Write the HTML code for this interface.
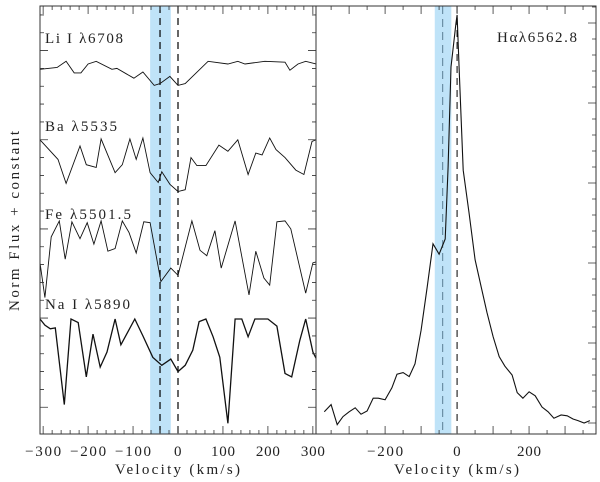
<!DOCTYPE html>
<html><head><meta charset="utf-8"><style>
html,body{margin:0;padding:0;background:#fff}
svg{display:block}
text{font-family:"Liberation Serif","DejaVu Serif",serif;fill:#222}
</style></head><body>
<svg id="chart" width="600" height="482" viewBox="0 0 600 482" xmlns="http://www.w3.org/2000/svg"></svg>
<script>
// ---- data ----
const liVel=[-307,-269,-249,-231,-216,-200,-182,-147,-136,-98,-78,-53,-40,-18,0,16,67,111,133,149,193,238,249,267,284,307];
const liFlux=[0.91,0.93,1.00,0.87,0.87,0.97,1.00,0.91,0.92,0.81,0.88,0.73,0.75,0.83,0.73,0.75,1.00,0.97,1.00,0.97,1.00,0.99,0.90,0.97,1.00,0.97];
const baVel=[-307,-267,-249,-218,-204,-182,-171,-140,-124,-107,-93,-78,-62,-44,-36,-18,0,16,29,42,62,91,111,133,156,173,187,204,218,238,262,280,298,307];
const baFlux=[1.0,0.78,0.51,0.93,0.72,0.69,1.01,0.63,0.72,1.01,0.78,1.02,0.63,0.52,0.64,0.50,0.42,0.44,0.80,0.71,0.71,0.94,0.87,1.0,0.61,0.85,0.83,1.02,0.89,0.80,0.66,0.61,0.98,1.0];
const feVel=[-307,-296,-282,-264,-251,-236,-218,-202,-187,-171,-156,-140,-124,-109,-93,-76,-62,-38,-16,0,31,49,64,82,96,127,158,173,191,204,220,238,251,284,300,307];
const feFlux=[0.53,0.14,0.82,1.0,0.57,0.99,0.80,0.98,0.74,1.0,0.66,0.69,1.0,0.87,0.64,0.99,0.98,0.32,0.47,0.39,1.0,0.67,0.61,0.89,0.47,1.0,0.17,0.66,0.36,0.28,0.99,1.0,0.91,0.19,0.53,0.54];
const naVel=[-307,-296,-284,-273,-253,-238,-222,-204,-189,-173,-158,-140,-127,-96,-78,-56,-36,-16,0,16,33,47,62,78,93,111,127,142,156,171,200,220,238,253,271,284,300,307];
const naFlux=[1,0.93,0.89,0.90,0.04,1,0.96,0.35,0.83,0.46,0.63,1,0.71,1,0.81,0.57,0.48,0.55,0.41,0.48,0.65,0.97,1,0.80,0.57,-0.17,1,1,0.80,1,1,0.92,0.39,0.35,0.76,1,0.63,0.56];
const lineNames=["Li I \u03bb6708","Ba \u03bb5535","Fe \u03bb5501.5","Na I \u03bb5890"];
const lineOffsets=[3.18,2.30,1.39,0.29];
const haVel=[-369,-350,-333,-317,-300,-283,-267,-250,-233,-219,-200,-181,-167,-150,-133,-117,-100,-83,-67,-50,-33,-25,-17,-3,0,6,17,33,50,67,83,100,117,133,153,167,183,200,217,236,253,269,289,306,322,336,353,369];
const haFlux=[1.14,1.23,0.98,1.08,1.14,1.19,1.11,1.15,1.31,1.31,1.29,1.44,1.61,1.63,1.58,1.74,2.16,2.70,3.24,3.11,3.30,4.20,5.45,6.00,6.10,5.41,4.16,3.63,3.04,2.70,2.38,2.08,1.83,1.71,1.60,1.38,1.31,1.39,1.34,1.20,1.14,1.06,1.10,1.09,1.05,1.03,1.00,1.03];
const leftXTicks=[-300,-200,-100,0,100,200,300];
const rightXTicks=[-200,0,200];
const shadeRange=[-62,-16];
const markerVels=[-40,0];

// ---- scales ----
const L={x0:40,x1:316,y0:6,y1:434,vmin:-307,vmax:307,fmin:0,fmax:4.8};
const R={x0:316,x1:596,y0:6,y1:434,vmin:-392,vmax:386,fmin:0.8625,fmax:6.2125};
const sx=(p,v)=>p.x0+(v-p.vmin)/(p.vmax-p.vmin)*(p.x1-p.x0);
const sy=(p,f)=>p.y1-(f-p.fmin)/(p.fmax-p.fmin)*(p.y1-p.y0);
const svg=document.getElementById('chart');
const NS='http://www.w3.org/2000/svg';
function mk(tag,attrs,parent){const e=document.createElementNS(NS,tag);for(const k in attrs)e.setAttribute(k,attrs[k]);(parent||svg).appendChild(e);return e;}
function tickWidth(v){const s=String(Math.abs(v));return s.length*8+(v<0?12:0);}

function panel(p,key){
  const g=mk('g',{});
  
  
  const b=mk('rect',{x:sx(p,shadeRange[0]),y:p.y0,width:sx(p,shadeRange[1])-sx(p,shadeRange[0]),height:p.y1-p.y0,fill:'#bfe3f8'},g);
  
  
  markerVels.forEach((v,i)=>{
    const l=mk('line',{x1:sx(p,v),x2:sx(p,v),y1:p.y0,y2:p.y1,stroke:(key==='right'&&i===0)?'#5a7d94':'#000','stroke-width':key==='right'?1:1.2,'stroke-dasharray':key==='right'&&i===0?'8,5':'7,5'},g);
    
    
  });
  return g;
}
function poly(p,vel,flux,off,g,name,w){
  const pts=vel.map((v,i)=>sx(p,v).toFixed(1)+','+sy(p,flux[i]+off).toFixed(1)).join(' ');
  const e=mk('polyline',{points:pts,fill:'none',stroke:'#111','stroke-width':w},g);
  
  
}
const gl=panel(L,'left');
const cp=mk('clipPath',{id:'cl'});mk('rect',{x:L.x0,y:L.y0,width:L.x1-L.x0,height:L.y1-L.y0},cp);
const gls=mk('g',{'clip-path':'url(#cl)'},gl);
poly(L,liVel,liFlux,lineOffsets[0],gls,'li-6708-spectrum',0.9);
poly(L,baVel,baFlux,lineOffsets[1],gls,'ba-5535-spectrum',0.9);
poly(L,feVel,feFlux,lineOffsets[2],gls,'fe-5501-spectrum',0.9);
poly(L,naVel,naFlux,lineOffsets[3],gls,'na-5890-spectrum',1.3);
const labelY=[43,131,219,309];
const labelW=[78,72,86,85];
lineNames.forEach((n,i)=>{
  const t=mk('text',{x:45,y:labelY[i],'font-size':15,textLength:labelW[i],lengthAdjust:'spacing'},gl);t.textContent=n;
  
  
});
const gr=panel(R,'right');
poly(R,haVel,haFlux,0,gr,'halpha-spectrum',1.1);
const ht=mk('text',{x:497,y:42,'font-size':15,textLength:80,lengthAdjust:'spacing'},gr);ht.textContent='H\u03b1\u03bb6562.8';



function frame(p,name){
  const r=mk('rect',{x:p.x0,y:p.y0,width:p.x1-p.x0,height:p.y1-p.y0,fill:'none',stroke:'#333','stroke-width':1});
  
  
}
frame(L,'left-frame');frame(R,'right-frame');
let d='';
for(let v=-300;v<=300;v+=20){const x=sx(L,v),len=v%100===0?8:4;d+=`M${x},${L.y1}v${-len}M${x},${L.y0}v${len}`;}
for(let k=0;k<=24;k++){const f=0.3+k*0.2;if(f>L.fmax)break;const y=sy(L,f),len=k%5===0?8:4;d+=`M${L.x0},${y}h${len}M${L.x1},${y}h${-len}`;}
for(let v=-350;v<=350;v+=50){const x=sx(R,v),len=v%100===0?8:4;d+=`M${x},${R.y1}v${-len}M${x},${R.y0}v${len}`;}
for(let k=0;k<=27;k++){const f=0.8+k*0.2;if(f>R.fmax)break;if(f<R.fmin)continue;const y=sy(R,f),len=Math.abs(f-Math.round(f))<0.01?8:4;d+=`M${R.x1},${y}h${-len}`;}
const tk=mk('path',{d:d,stroke:'#333','stroke-width':0.8,fill:'none'});


function xtick(p,v){
  const w=tickWidth(v);
  const t=mk('text',{x:sx(p,v)-w/2,y:456,'font-size':15,textLength:w,lengthAdjust:'spacing'});
  t.textContent=(v<0?'\u2212':'')+Math.abs(v);
  
  
}
leftXTicks.forEach(v=>xtick(L,v));
rightXTicks.forEach(v=>xtick(R,v));
[[115,'left-x-axis-title'],[394,'right-x-axis-title']].forEach(a=>{const t=mk('text',{x:a[0],y:474,'font-size':15,textLength:125,lengthAdjust:'spacing'});t.textContent='Velocity (km/s)';
  
  });
const yt=mk('text',{x:0,y:0,'font-size':15,textLength:180,lengthAdjust:'spacing',transform:'translate(19,311) rotate(-90)'});yt.textContent='Norm Flux + constant';


</script>
</body></html>
